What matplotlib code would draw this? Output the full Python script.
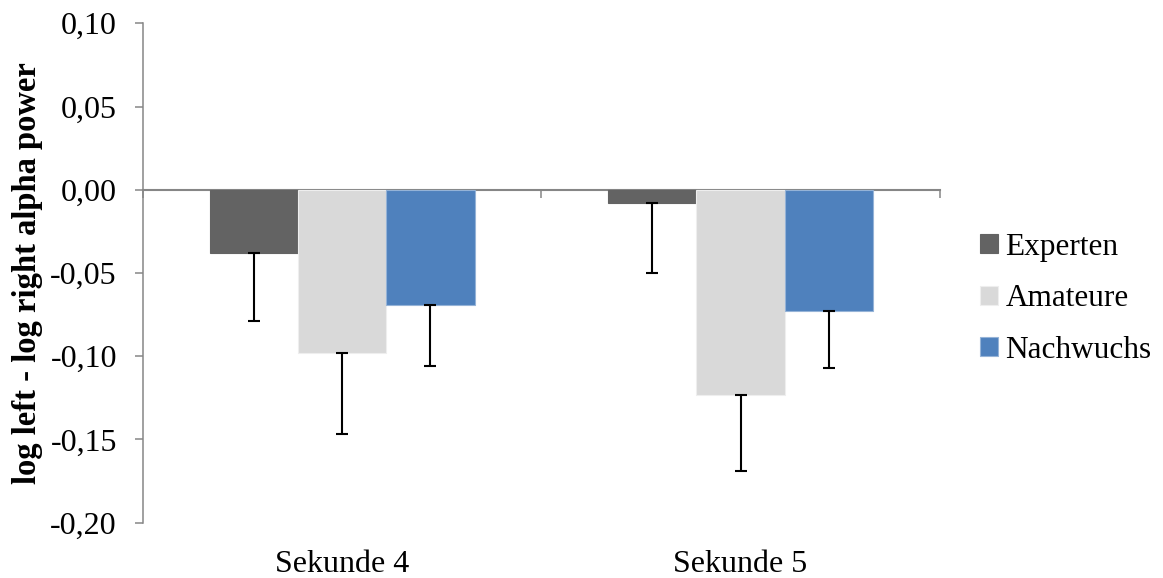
import matplotlib
matplotlib.use("Agg")
import matplotlib.pyplot as plt
import numpy as np
from matplotlib.transforms import blended_transform_factory

plt.rcParams['font.family'] = ['Liberation Serif', 'DejaVu Serif']

categories = ["Sekunde 4", "Sekunde 5"]
series = ["Experten", "Amateure", "Nachwuchs"]
experten = [-0.038, -0.008]
amateure = [-0.098, -0.123]
nachwuchs = [-0.069, -0.073]
experten_err = [0.041, 0.042]
amateure_err = [0.049, 0.046]
nachwuchs_err = [0.037, 0.034]
yticks = [0.10, 0.05, 0.00, -0.05, -0.10, -0.15, -0.20]
ytick_labels = ["0,10", "0,05", "0,00", "-0,05", "-0,10", "-0,15", "-0,20"]
colors = ["#636363", "#d9d9d9", "#4f81bd"]
edgecolors = ["#636363", "#eeeeee", "#95b3d7"]

values = [experten, amateure, nachwuchs]
errors = [experten_err, amateure_err, nachwuchs_err]

fig = plt.figure(figsize=(11.63, 5.78), dpi=100)
ax = fig.add_axes([0.123, 0.0957, 0.685, 0.864])

x = np.arange(len(categories))
w = 0.2215
grey = "#868686"
for i, (vals, errs) in enumerate(zip(values, errors)):
    pos = x + (i - 1) * w
    ax.bar(pos, vals, width=w, color=colors[i], edgecolor=edgecolors[i],
           linewidth=0.8, label=series[i], zorder=2)
    ax.errorbar(pos, vals, yerr=[errs, [0] * len(errs)], fmt='none',
                ecolor='black', elinewidth=1.5, capsize=4.3, capthick=1.5, zorder=3)

ax.set_xlim(-0.5, len(categories) - 0.5)
ax.set_ylim(-0.20, 0.10)
ax.set_yticks(yticks)
ax.set_yticklabels(ytick_labels, fontsize=23)

for s in ['top', 'right']:
    ax.spines[s].set_visible(False)
ax.spines['left'].set_color(grey)
ax.spines['left'].set_linewidth(1.1)
ax.spines['bottom'].set_position(('data', 0))
ax.spines['bottom'].set_color(grey)
ax.spines['bottom'].set_linewidth(1.5)
ax.spines['bottom'].set_zorder(1)
ax.set_xticks(np.arange(-0.5, len(categories), 1.0))
ax.set_xticklabels([])
ax.tick_params(axis='x', length=5.8, width=1.1, color=grey, direction='out')
ax.tick_params(axis='y', length=5.8, width=1.1, color=grey, direction='out', pad=13)

trans = blended_transform_factory(ax.transData, ax.transAxes)
for xi, c in zip(x, categories):
    ax.text(xi, -0.055, c, transform=trans, ha='center', va='top', fontsize=23)

ax.set_ylabel("log left - log right alpha power", fontsize=23.5, fontweight='bold', labelpad=5)

leg = ax.legend(loc='center left', bbox_to_anchor=(1.035, 0.448), frameon=False,
                fontsize=22.5, handlelength=0.56, handleheight=0.56, handletextpad=0.25,
                labelspacing=0.72, borderaxespad=0)

fig.savefig("out.png", dpi=100)
